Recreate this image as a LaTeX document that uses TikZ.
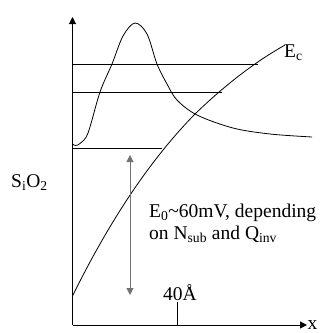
\documentclass[tikz,border=0pt]{standalone}
\usepackage{fontspec}
\setmainfont{Liberation Serif}
\usetikzlibrary{arrows.meta, positioning, calc}
\tikzstyle{axis} = [-{Triangle[length=7pt, width=7pt]}, line width=1pt]
\tikzstyle{level} = [line width=0.8pt]
\tikzstyle{curve} = [line width=0.8pt]
\tikzstyle{gap} = [{Triangle[length=7pt, width=7pt]}-{Triangle[length=7pt, width=7pt]},
                   line width=1pt, draw=black!55]
\tikzstyle{label} = [font=\fontsize{19.5}{22}\selectfont, inner sep=0pt]

\begin{document}
\begin{tikzpicture}[x=1pt, y=-1pt]
    \useasboundingbox (0,0) rectangle (320,333);

    % Axes
    \coordinate (origin) at (72.5,325);
    \coordinate (ytop) at (72.5,17);
    \coordinate (xend) at (307,325);
    \draw[axis] (origin) -- (ytop);
    \draw[axis] (origin) -- (xend);
    \node[label, right=0.5pt of xend, anchor=west] (xlab) {x};

    % Conduction band edge
    \draw[curve] (72.5,296) .. controls (110,220) and (150,160) .. (195,114)
                 .. controls (225,85) and (255,62) .. (285,45);
    \node[label, anchor=south west] (ec) at (284,61) {E\textsubscript{c}};

    % Energy levels
    \coordinate (l1a) at (72.5,64);  \coordinate (l1b) at (258,64);
    \coordinate (l2a) at (72.5,92);  \coordinate (l2b) at (222,92);
    \coordinate (l3a) at (72.5,148); \coordinate (l3b) at (162,148);
    \draw[level] (l1a) -- (l1b);
    \draw[level] (l2a) -- (l2b);
    \draw[level] (l3a) -- (l3b);

    % Wave function
    \draw[curve] plot[smooth, tension=0.55] coordinates {(72.5,144) (75.5,145.5)
        (80,143.5) (88,133) (100,92) (112,64) (123,36) (135,23) (147,34) (157,64)
        (167,84) (177,100) (197,115) (233,128) (270,134) (312,137)};

    % Splitting
    \coordinate (gtop) at (130,155);
    \coordinate (gbot) at (130,295);
    \draw[gap] (gbot) -- (gtop);
    \node[label, anchor=base west, align=left] (note) at (149,239)
        {E\textsubscript{0}\textasciitilde60mV, depending\\on N\textsubscript{sub} and Q\textsubscript{inv}};

    % Thickness mark
    \coordinate (tick) at (177,302);
    \draw[level] (tick) -- (tick |- origin);
    \node[label, anchor=base] (thick) at (180,300) {40Å};

    % Oxide label
    \node[label, anchor=base west] (oxide) at (11,187) {S\textsubscript{i}O\textsubscript{2}};
\end{tikzpicture}
\end{document}
